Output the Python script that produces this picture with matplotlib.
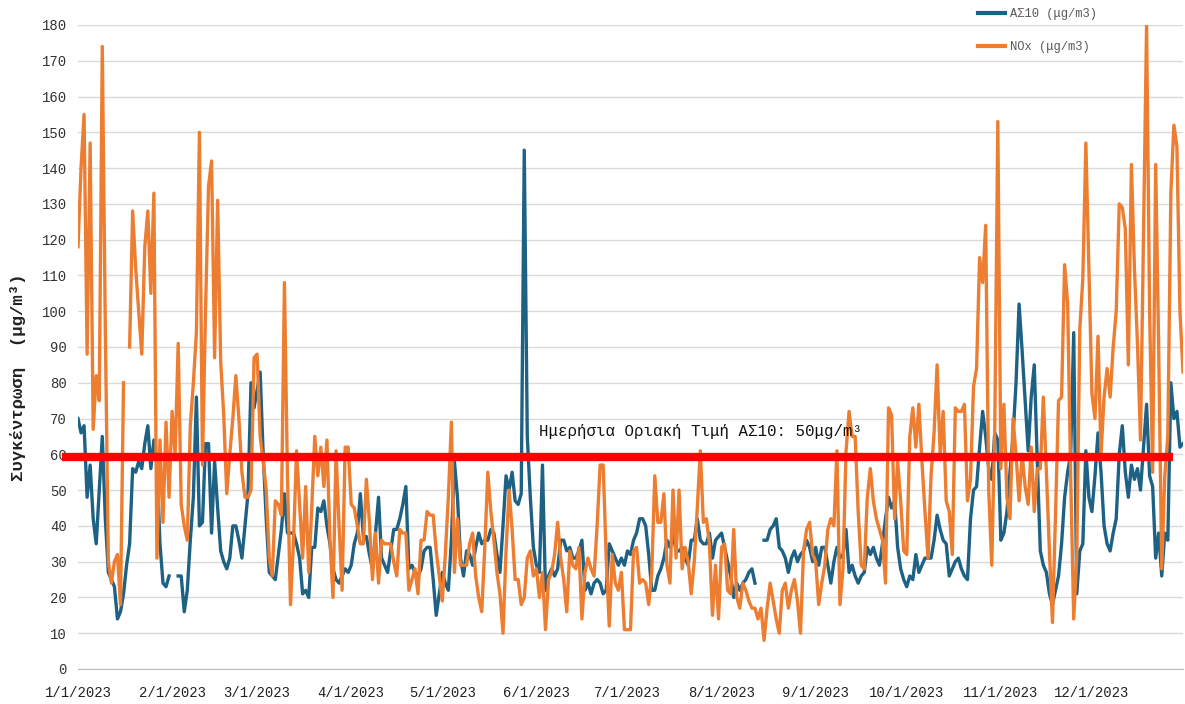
import numpy as np
import pandas as pd
import matplotlib
matplotlib.use('Agg')
import matplotlib.pyplot as plt

nan = np.nan

# daily values 2023 (gaps = missing days)
dates = pd.date_range('2023-01-01', '2023-12-31', freq='D')

pm10 = [
    70, 66, 68, 48, 57, 42, 35, 50, 65, 42, 27, 25, 23, 14, 16, 21, 29, 35, 56, 55, 58, 56, 63, 68, 56, 64, 58, 35, 24, 23, 26,  # jan
    nan, nan, 26, 26, 16, 22, 36, 48, 76, 40, 41, 63, 63, 38, 58, 45, 33, 30, 28, 31, 40, 40, 36, 31, 40, 49, 80, 73,  # feb
    78, 83, 60, 42, 27, 26, 25, 32, 39, 49, 38, 38, 38, 35, 31, 21, 22, 20, 34, 34, 45, 44, 47, 40, 35, 28, 25, 24, 26, 28, 27,  # mar
    29, 35, 38, 49, 37, 37, 32, 28, 38, 48, 31, 29, 27, 33, 39, 39, 42, 46, 51, 28, 29, 27, 26, 28, 33, 34, 34, 25, 15, 21,  # apr
    27, 24, 22, 36, 58, 48, 31, 26, 33, 32, 29, 34, 38, 35, 36, 36, 39, 38, 32, 27, 40, 54, 50, 55, 47, 46, 49, 145, 65, 48, 34,  # may
    29, 27, 57, 22, 26, 28, 26, 28, 36, 36, 33, 34, 31, 31, 33, 36, 22, 24, 21, 24, 25, 24, 21, 22, 35, 33, 31, 29, 31, 29,  # jun
    33, 32, 36, 38, 42, 42, 40, 32, 22, 22, 26, 28, 31, 36, 34, 38, 33, 33, 34, 31, 29, 36, 36, 42, 36, 35, 35, 38, 31, 36, 37,  # jul
    38, 34, 30, 26, 20, 24, 22, 24, 25, 27, 28, 24, nan, nan, 36, 36, 39, 40, 42, 34, 33, 31, 27, 31, 33, 30, 32, 33, 36, 34, 30,  # aug
    34, 29, 34, 34, 29, 24, 30, 34, 31, 32, 39, 27, 29, 26, 24, 26, 27, 34, 32, 34, 31, 29, 35, 42, 48, 45, 47, 34, 28, 25,  # sep
    23, 26, 25, 32, 27, 29, 31, 31, 31, 36, 43, 39, 36, 35, 26, 28, 30, 31, 28, 26, 25, 42, 50, 51, 62, 72, 65, 56, 53, 66, 64,  # oct
    36, 38, 44, 55, 65, 80, 102, 89, 75, 61, 76, 85, 58, 33, 29, 27, 21, 18, 22, 26, 35, 48, 55, 60, 94, 21, 33, 35, 61, 48,  # nov
    44, 54, 66, 55, 40, 35, 33, 38, 42, 60, 68, 55, 48, 57, 53, 56, 50, 62, 74, 54, 51, 31, 38, 26, 38, 36, 80, 70, 72, 62, 63,  # dec
]

nox = [
    118, 140, 155, 88, 147, 67, 82, 75, 174, 95, 30, 24, 30, 32, 18, 80, nan, 90, 128, 112, 100, 88, 118, 128, 105, 133, 31, 64, 41, 69, 48,  # jan
    72, 60, 91, 46, 40, 36, 68, 80, 94, 150, 57, 100, 135, 142, 87, 131, 86, 71, 49, 60, 70, 82, 70, 55, 48, 48, 50, 87,  # feb
    88, 65, 58, 50, 31, 26, 47, 46, 43, 108, 54, 18, 36, 61, 46, 31, 51, 27, 45, 65, 54, 62, 51, 64, 36, 20, 61, 40, 22, 62, 62,  # mar
    46, 45, 40, 35, 35, 53, 41, 25, 38, 24, 36, 35, 35, 35, 30, 26, 39, 38, 38, 22, 25, 28, 21, 36, 36, 44, 43, 43, 33, 26,  # apr
    19, 32, 48, 69, 27, 42, 29, 29, 29, 35, 38, 26, 20, 16, 34, 55, 44, 36, 27, 21, 10, 33, 50, 39, 25, 25, 18, 20, 31, 33, 26,  # may
    28, 20, 27, 11, 25, 27, 32, 41, 31, 25, 16, 33, 29, 28, 34, 14, 27, 31, 28, 26, 40, 57, 57, 31, 12, 32, 24, 22, 27, 11,  # jun
    11, 11, 33, 34, 24, 25, 24, 18, 27, 54, 41, 41, 49, 29, 24, 50, 31, 50, 28, 34, 30, 21, 30, 45, 61, 41, 42, 35, 15, 29, 14,  # jul
    34, 35, 22, 21, 39, 20, 17, 24, 22, 19, 17, 17, 14, 17, 8, 17, 24, 19, 14, 10, 22, 24, 17, 22, 25, 19, 10, 33, 39, 41, 32,  # aug
    30, 18, 24, 29, 39, 42, 40, 61, 18, 28, 61, 72, 65, 65, 44, 29, 28, 48, 56, 47, 42, 39, 36, 24, 73, 71, 42, 58, 47, 33,  # sep
    32, 65, 73, 62, 74, 58, 44, 31, 54, 66, 85, 60, 72, 47, 44, 32, 73, 72, 72, 74, 47, 53, 79, 84, 115, 108, 124, 50, 29, 68, 153,  # oct
    56, 74, 48, 42, 70, 60, 47, 60, 51, 46, 62, 44, 56, 56, 76, 55, 33, 13, 43, 75, 76, 113, 102, 54, 14, 31, 95, 109, 147, 112,  # nov
    77, 70, 93, 60, 76, 84, 76, 90, 100, 130, 129, 123, 85, 141, 112, 91, 64, 123, 180, 100, 55, 141, 89, 28, 54, 65, 133, 152, 146, 100, 83,  # dec
]

limit_level = 59.3  # where the red bar is drawn in the original
limit_text = 'Ημερήσια Οριακή Τιμή ΑΣ10: 50μg/m³'

month_starts = pd.date_range('2023-01-01', '2023-12-01', freq='MS')
month_labels = [f'{d.month}/{d.day}/{d.year}' for d in month_starts]
yticks = list(range(0, 181, 10))

mono = 'Liberation Mono'
blue = '#1d6184'
orange = '#ed7d31'

fig = plt.figure(figsize=(11.85, 7.04), dpi=100)
ax = fig.add_axes([78 / 1185, 35 / 704, 1105 / 1185, 644 / 704])

ax.plot(dates, pm10, color=blue, lw=2.4, label='ΑΣ10 (μg/m3)')
ax.plot(dates, nox, color=orange, lw=2.4, label='NOx (μg/m3)')

# red limit bar, a bit wider than the plot on the left
ax.plot([-0.0145, 0.991], [limit_level, limit_level], transform=ax.get_yaxis_transform(),
        color='#ff0000', lw=6, clip_on=False, solid_capstyle='butt', zorder=5)
ax.text(pd.Timestamp('2023-06-02'), 66.3, limit_text, family=mono, fontsize=11.3,
        color='#111111', va='center', ha='left', zorder=6)

ax.set_xlim(dates[0], dates[-1])
ax.set_ylim(0, 180)
ax.set_yticks(yticks)
ax.set_yticklabels([str(v) for v in yticks], family=mono, fontsize=10, color='#333333')
ax.set_xticks(month_starts)
ax.set_xticklabels(month_labels, family=mono, fontsize=10, color='#222222')
ax.tick_params(axis='both', length=0)
ax.tick_params(axis='y', pad=8)
ax.tick_params(axis='x', pad=12)

ax.yaxis.grid(True, color='#d9d9d9', lw=1)
ax.set_axisbelow(True)
for side in ['left', 'top', 'right']:
    ax.spines[side].set_visible(False)
ax.spines['bottom'].set_color('#bfbfbf')

fig.text(18 / 1185, 0.464, 'Συγκέντρωση  (μg/m³)', rotation=90, family=mono,
         fontweight='bold', fontsize=12.5, color='#222222', ha='center', va='center')

leg = ax.legend(loc='upper left', bbox_to_anchor=(0.8145, 1.026), frameon=False,
                prop={'family': mono, 'size': 8.7}, labelspacing=1.75, handlelength=2.2,
                handletextpad=0.45, borderpad=0, borderaxespad=0)
for t in leg.get_texts():
    t.set_color('#595959')
for h in leg.get_lines():
    h.set_linewidth(3)

fig.savefig('out.png', dpi=100)
